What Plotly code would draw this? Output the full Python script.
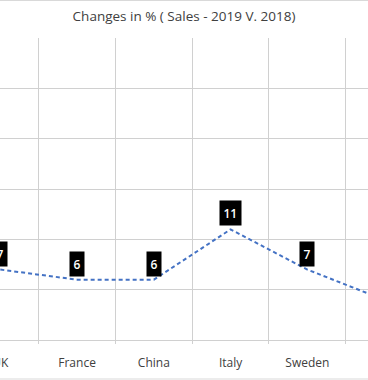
import plotly.graph_objects as go

categories = ["UK", "France", "China", "Italy", "Sweden", "Spain"]
values = [7, 6, 6, 11, 7, 4]
title_text = "Changes in % ( Sales - 2019 V. 2018)"

fig = go.Figure()
fig.add_trace(go.Scatter(
    x=categories, y=values, mode="lines",
    line=dict(color="#4472C4", width=2, dash="4px,3px"),
    hoverinfo="skip", showlegend=False,
))

for c, v in zip(categories, values):
    fig.add_annotation(
        x=c, y=v, xref="x", yref="y", text=str(v), showarrow=False,
        yanchor="bottom", yshift=3, bgcolor="black", borderpad=3.5,
        font=dict(family="Open Sans", size=12, color="white", weight=600),
    )

# outer chart border (top and bottom edges visible)
for yy in [1 + 37.5 / 302, -39 / 302]:
    fig.add_shape(type="line", xref="paper", yref="paper", x0=-0.05, x1=1.05,
                  y0=yy, y1=yy, line=dict(color="#d9d9d9", width=1))

fig.update_layout(
    width=368, height=380,
    margin=dict(l=0, r=0, t=38, b=40, autoexpand=False),
    paper_bgcolor="white", plot_bgcolor="white",
    title=dict(text=title_text, x=0.5, xanchor="center", y=1 - 16 / 380,
               yanchor="middle", yref="container", automargin=False,
               font=dict(family="Open Sans", size=13.5, color="#404040")),
    xaxis=dict(type="category", range=[-0.004, 4.79], tickson="boundaries",
               automargin=False,
               showgrid=True, gridcolor="#d0d0d0", gridwidth=1,
               ticks="outside", ticklen=3, tickcolor="#d0d0d0",
               showline=True, linecolor="#d0d0d0", ticklabelstandoff=12,
               tickfont=dict(family="Open Sans", size=12, color="#404040")),
    yaxis=dict(range=[0, 30.03], dtick=5, showgrid=True, gridcolor="#d0d0d0",
               automargin=False,
               showticklabels=False, zeroline=False, showline=False),
)

fig.write_html("out.html", config={"displayModeBar": False},
               post_script="document.body.style.margin='0px';")
